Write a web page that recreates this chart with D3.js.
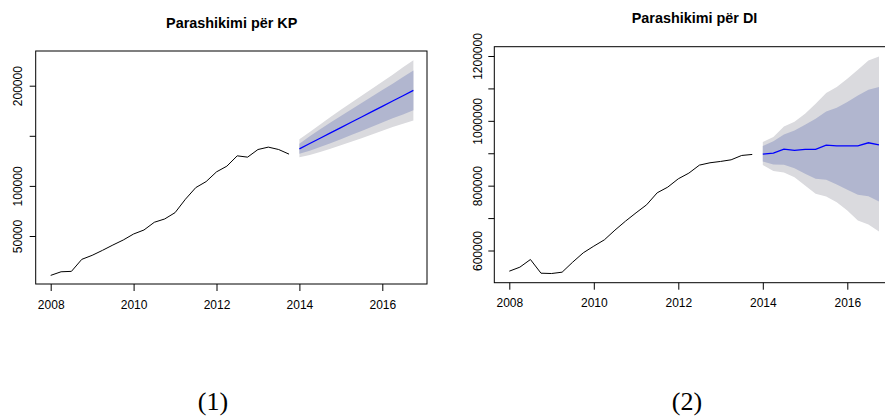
<!DOCTYPE html>
<html>
<head>
<meta charset="utf-8">
<script src="https://cdn.jsdelivr.net/npm/d3@7"></script>
<style>
  html, body { margin: 0; padding: 0; background: #ffffff; }
  svg { display: block; }
</style>
</head>
<body>
<svg id="chart" width="885" height="416"></svg>
<script>
// ---------- DATA ----------
const histTime = [2008, 2008.25, 2008.5, 2008.75, 2009, 2009.25, 2009.5, 2009.75,
                  2010, 2010.25, 2010.5, 2010.75, 2011, 2011.25, 2011.5, 2011.75,
                  2012, 2012.25, 2012.5, 2012.75, 2013, 2013.25, 2013.5, 2013.75];
const fcTime = [2014, 2014.25, 2014.5, 2014.75, 2015, 2015.25, 2015.5, 2015.75,
                2016, 2016.25, 2016.5, 2016.75];

// KP
const kpHist = [10700, 14300, 14700, 26700, 30700, 35700, 41000, 46000,
                52000, 56000, 63700, 67000, 73300, 86700, 98300, 104300,
                114000, 119700, 130000, 128700, 136300, 138700, 136300, 131700];
const kpMean  = [137000, 142300, 147600, 152900, 158200, 163500, 168800, 174100, 179400, 184700, 190000, 195300];
const kpLo80  = [132000, 135100, 138700, 142600, 146600, 150700, 154800, 159000, 163200, 167400, 171200, 175500];
const kpHi80  = [142000, 149500, 156500, 163200, 169800, 176300, 182800, 189200, 195600, 202000, 208800, 215100];
const kpLo95  = [128500, 130800, 133800, 137100, 140500, 144000, 147600, 151300, 155000, 158700, 162100, 165300];
const kpHi95  = [146500, 153800, 161400, 168700, 175900, 183000, 190000, 197000, 204000, 211000, 218500, 225400];
const kpTicks = [50000, 100000, 150000, 200000];
const kpLabels = ["50000", "100000", "", "200000"];

// DI
const diHist = [536200, 548600, 572200, 530000, 529000, 533100, 564000, 592800,
                613400, 632900, 662800, 690500, 716300, 741000, 778000, 795500,
                821200, 838700, 863400, 870600, 874700, 879800, 893200, 896300];
const diMean = [897300, 900400, 912800, 908600, 911700, 911700, 925100, 923000, 923000, 923000, 932300, 926100];
const diHi95 = [934400, 949800, 982700, 997100, 1021800, 1052700, 1085600, 1104100, 1129800, 1157600, 1186400, 1198800];
const diHi80 = [922000, 937400, 958000, 970400, 987900, 1006400, 1029000, 1040300, 1057800, 1078400, 1095900, 1104100];
const diLo80 = [874700, 865400, 864400, 854100, 836600, 821200, 818100, 803700, 787200, 771800, 767700, 751200];
const diLo95 = [863400, 844900, 840700, 826300, 800600, 774900, 766700, 749200, 723500, 692600, 680200, 658600];
const diTicks = [600000, 700000, 800000, 900000, 1000000, 1100000, 1200000];
const diLabels = ["600000", "", "800000", "", "1000000", "", "1200000"];

const xTicks = [2008, 2010, 2012, 2014, 2016];
const titles = ["Parashikimi për KP", "Parashikimi për DI"];
const captions = ["(1)", "(2)"];

// ---------- DRAW ----------
const svg = d3.select("#chart");
const FONT = "'Liberation Sans', Arial, Helvetica, sans-serif";
const LIGHT = "#dadade";
const DARK = "#b1b6cf";

function panel(cfg) {
  const g = svg.append("g");
  const x = d3.scaleLinear().domain([2008, 2016]).range([cfg.x2008, cfg.x2016]);
  const y = d3.scaleLinear().domain(cfg.yDom).range(cfg.yRange);

  const clipId = "clip" + cfg.id;
  g.append("clipPath").attr("id", clipId)
    .append("rect").attr("x", cfg.box[0]).attr("y", cfg.box[1])
    .attr("width", cfg.box[2] - cfg.box[0]).attr("height", cfg.box[3] - cfg.box[1]);

  const plot = g.append("g").attr("clip-path", `url(#${clipId})`);

  const fc = fcTime.map((t, i) => ({t, m: cfg.mean[i], l80: cfg.lo80[i], h80: cfg.hi80[i], l95: cfg.lo95[i], h95: cfg.hi95[i]}));
  const area95 = d3.area().x(d => x(d.t)).y0(d => y(d.l95)).y1(d => y(d.h95));
  const area80 = d3.area().x(d => x(d.t)).y0(d => y(d.l80)).y1(d => y(d.h80));
  plot.append("path").datum(fc).attr("d", area95).attr("fill", LIGHT);
  plot.append("path").datum(fc).attr("d", area80).attr("fill", DARK);

  const hist = histTime.map((t, i) => ({t, v: cfg.hist[i]}));
  plot.append("path").datum(hist)
    .attr("d", d3.line().x(d => x(d.t)).y(d => y(d.v)))
    .attr("fill", "none").attr("stroke", "#000").attr("stroke-width", 1);

  plot.append("path").datum(fc)
    .attr("d", d3.line().x(d => x(d.t)).y(d => y(d.m)))
    .attr("fill", "none").attr("stroke", "#0000ff").attr("stroke-width", 1.3);

  // box
  g.append("rect").attr("x", cfg.box[0]).attr("y", cfg.box[1])
    .attr("width", cfg.box[2] - cfg.box[0]).attr("height", cfg.box[3] - cfg.box[1])
    .attr("fill", "none").attr("stroke", "#000").attr("stroke-width", 1);

  // x axis
  const xa = g.append("g").attr("transform", `translate(0,${cfg.box[3]})`)
    .call(d3.axisBottom(x).tickValues(xTicks).tickFormat(d3.format("d")).tickSize(7).tickPadding(9));
  xa.select(".domain").remove();
  xa.selectAll("text").attr("font-family", FONT).attr("font-size", 12).attr("fill", "#000");
  xa.selectAll("line").attr("stroke", "#000");

  // y axis
  const ya = g.append("g").attr("transform", `translate(${cfg.box[0]},0)`)
    .call(d3.axisLeft(y).tickValues(cfg.yTicks).tickFormat((d, i) => cfg.yLabels[i]).tickSize(6));
  ya.select(".domain").remove();
  ya.selectAll("line").attr("stroke", "#000");
  ya.selectAll("text")
    .attr("font-family", FONT).attr("font-size", 12).attr("fill", "#000")
    .attr("x", 0).attr("dy", null).attr("y", 0)
    .attr("text-anchor", "middle")
    .attr("transform", `translate(${cfg.yLabX - cfg.box[0]},0) rotate(-90)`);

  // title
  g.append("text").attr("x", (cfg.box[0] + cfg.titleCx)).attr("y", cfg.titleY)
    .attr("text-anchor", "middle").attr("font-family", FONT).attr("font-weight", "bold")
    .attr("font-size", 14.4).attr("fill", "#000").text(cfg.title);

  // caption
  g.append("text").attr("x", cfg.capX).attr("y", 410)
    .attr("text-anchor", "middle").attr("font-family", "'Liberation Serif', 'Times New Roman', serif")
    .attr("font-size", 26).attr("fill", "#000").text(cfg.caption);
}

panel({
  id: 1, hist: kpHist, mean: kpMean, lo80: kpLo80, hi80: kpHi80, lo95: kpLo95, hi95: kpHi95,
  x2008: 50.7, x2016: 382.3,
  yDom: [50000, 200000], yRange: [236, 85.7],
  box: [35.7, 51, 427, 284],
  yTicks: kpTicks, yLabels: kpLabels, yLabX: 22,
  title: titles[0], titleCx: 196, titleY: 28.3,
  caption: captions[0], capX: 213
});

panel({
  id: 2, hist: diHist, mean: diMean, lo80: diLo80, hi80: diHi80, lo95: diLo95, hi95: diHi95,
  x2008: 509.3, x2016: 847.3,
  yDom: [600000, 1200000], yRange: [250.5, 56],
  box: [494.3, 46.7, 895, 282.7],
  yTicks: diTicks, yLabels: diLabels, yLabX: 481.5,
  title: titles[1], titleCx: 200.2, titleY: 22.7,
  caption: captions[1], capX: 687
});
</script>
</body>
</html>
